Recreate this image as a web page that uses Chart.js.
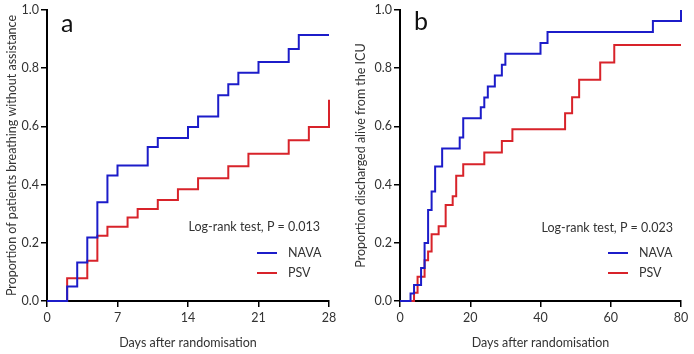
<!DOCTYPE html>
<html lang="en">
<head>
<meta charset="UTF-8">
<title>Kaplan-Meier NAVA vs PSV</title>
<script src="https://cdn.jsdelivr.net/npm/chart.js"></script>
<style>
    body { margin: 0; background: #fff; }
    .panel { position: absolute; top: 0; width: 347px; height: 354px; }
    #panelA { left: 0; }
    #panelB { left: 347px; }
</style>
</head>
<body>
<div class="panel" id="panelA"><canvas id="chartA" width="347" height="354"></canvas></div>
<div class="panel" id="panelB"><canvas id="chartB" width="347" height="354"></canvas></div>
<script>
// panel a: breathing without assistance
const aNavaDays = [0, 2, 3, 4, 5, 6, 7, 10, 11, 14, 15, 17, 18, 19, 21, 24, 25, 28];
const aNavaProp = [0, 0.05, 0.132, 0.218, 0.339, 0.431, 0.466, 0.529, 0.56, 0.598, 0.634, 0.707, 0.745, 0.784, 0.821, 0.866, 0.914, 0.914];
const aPsvDays = [0, 2, 4, 5, 6, 8, 9, 11, 13, 15, 18, 20, 24, 26, 28];
const aPsvProp = [0, 0.078, 0.138, 0.224, 0.255, 0.287, 0.316, 0.347, 0.384, 0.422, 0.463, 0.506, 0.552, 0.598, 0.692];
const aXTicks = [0, 7, 14, 21, 28];

// panel b: discharged alive from ICU
const bNavaDays = [0, 3, 4, 6, 7, 8, 9, 10, 12, 17, 18, 23, 24, 25, 27, 29, 30, 40, 42, 72, 80];
const bNavaProp = [0, 0.026, 0.055, 0.113, 0.199, 0.313, 0.376, 0.462, 0.524, 0.562, 0.628, 0.666, 0.699, 0.737, 0.775, 0.812, 0.85, 0.887, 0.924, 0.962, 1.0];
const bPsvDays = [0, 4, 5, 7, 8, 9, 11, 13, 15, 16, 18, 24, 29, 32, 47, 49, 51, 57, 61, 80];
const bPsvProp = [0, 0.028, 0.083, 0.14, 0.17, 0.229, 0.257, 0.33, 0.36, 0.43, 0.47, 0.51, 0.55, 0.59, 0.645, 0.70, 0.76, 0.82, 0.88, 0.88];
const bXTicks = [0, 20, 40, 60, 80];

const yTicks = [0, 0.2, 0.4, 0.6, 0.8, 1.0];
const seriesNames = ['NAVA', 'PSV'];
const BLUE = '#1c1cc9';
const RED = '#d8232a';
const FONT = 'Lato, "Open Sans", sans-serif';
const TXT = '#333';

function toPoints(days, prop) {
    return days.map((d, i) => ({ x: d, y: prop[i] }));
}

// letters, log-rank text and the small legend inside the plot
const annotPlugin = {
    id: 'annot',
    afterDraw(chart, args, o) {
        const ctx = chart.ctx;
        ctx.save();
        ctx.fillStyle = '#111';
        ctx.font = '25px ' + FONT;
        ctx.textBaseline = 'middle';
        ctx.textAlign = 'left';
        ctx.fillText(o.letter, o.letterX, o.letterY);

        ctx.fillStyle = TXT;
        ctx.font = '12.5px ' + FONT;
        ctx.textAlign = 'right';
        ctx.fillText(o.pText, o.pRight, o.pY);

        ctx.textAlign = 'left';
        const cols = [BLUE, RED];
        seriesNames.forEach((n, i) => {
            const y = o.legY + i * 20;
            ctx.strokeStyle = cols[i];
            ctx.lineWidth = 2;
            ctx.beginPath();
            ctx.moveTo(o.legX, y);
            ctx.lineTo(o.legX + 20, y);
            ctx.stroke();
            ctx.fillStyle = TXT;
            ctx.fillText(n, o.legX + 31, y);
        });
        ctx.restore();
    }
};

function makeChart(id, cfg) {
    return new Chart(document.getElementById(id), {
        type: 'line',
        data: {
            datasets: [
                { label: 'NAVA', data: toPoints(cfg.navaDays, cfg.navaProp), borderColor: BLUE, borderWidth: 2, stepped: 'before', pointRadius: 0, fill: false },
                { label: 'PSV', data: toPoints(cfg.psvDays, cfg.psvProp), borderColor: RED, borderWidth: 2, stepped: 'before', pointRadius: 0, fill: false }
            ]
        },
        options: {
            responsive: false,
            animation: false,
            clip: false,
            layout: { padding: { left: 0, right: cfg.padRight, top: 10, bottom: 0 } },
            plugins: {
                legend: { display: false },
                tooltip: { enabled: false },
                annot: cfg.annot
            },
            scales: {
                x: {
                    type: 'linear',
                    min: 0, max: cfg.xMax,
                    afterBuildTicks: s => { s.ticks = cfg.xTicks.map(v => ({ value: v })); },
                    afterFit: s => { s.height = 53; },
                    grid: { display: true, drawOnChartArea: false, drawTicks: true, tickLength: 6, color: '#000', lineWidth: 1.5 },
                    border: { color: '#000', width: 2 },
                    ticks: { color: TXT, font: { family: FONT, size: 12.5 }, padding: 3, maxRotation: 0 },
                    title: { display: true, text: 'Days after randomisation', color: TXT, font: { family: FONT, size: 12.5 }, padding: { top: 8 } }
                },
                y: {
                    min: 0, max: 1,
                    afterBuildTicks: s => { s.ticks = yTicks.map(v => ({ value: v })); },
                    afterFit: s => { s.width = cfg.yWidth; },
                    grid: { display: true, drawOnChartArea: false, drawTicks: true, tickLength: 6, color: '#000', lineWidth: 1.5 },
                    border: { color: '#000', width: 2 },
                    ticks: { color: TXT, font: { family: FONT, size: 12.5 }, padding: 2, callback: v => v.toFixed(1) },
                    title: { display: true, text: cfg.yTitle, color: TXT, font: { family: FONT, size: 12.5 }, padding: { top: cfg.yTitlePad, bottom: 0 } }
                }
            }
        },
        plugins: [annotPlugin]
    });
}

makeChart('chartA', {
    navaDays: aNavaDays, navaProp: aNavaProp, psvDays: aPsvDays, psvProp: aPsvProp,
    xMax: 28, xTicks: aXTicks, padRight: 18, yWidth: 47, yTitlePad: 4,
    yTitle: 'Proportion of patients breathing without assistance',
    annot: { letter: 'a', letterX: 61, letterY: 24, pText: 'Log-rank test, P = 0.013', pRight: 320, pY: 227, legX: 257, legY: 253 }
});

makeChart('chartB', {
    navaDays: bNavaDays, navaProp: bNavaProp, psvDays: bPsvDays, psvProp: bPsvProp,
    xMax: 80, xTicks: bXTicks, padRight: 13, yWidth: 53, yTitlePad: 6,
    yTitle: 'Proportion discharged alive from the ICU',
    annot: { letter: 'b', letterX: 67, letterY: 22, pText: 'Log-rank test, P = 0.023', pRight: 326, pY: 228, legX: 261, legY: 253 }
});
</script>
</body>
</html>
